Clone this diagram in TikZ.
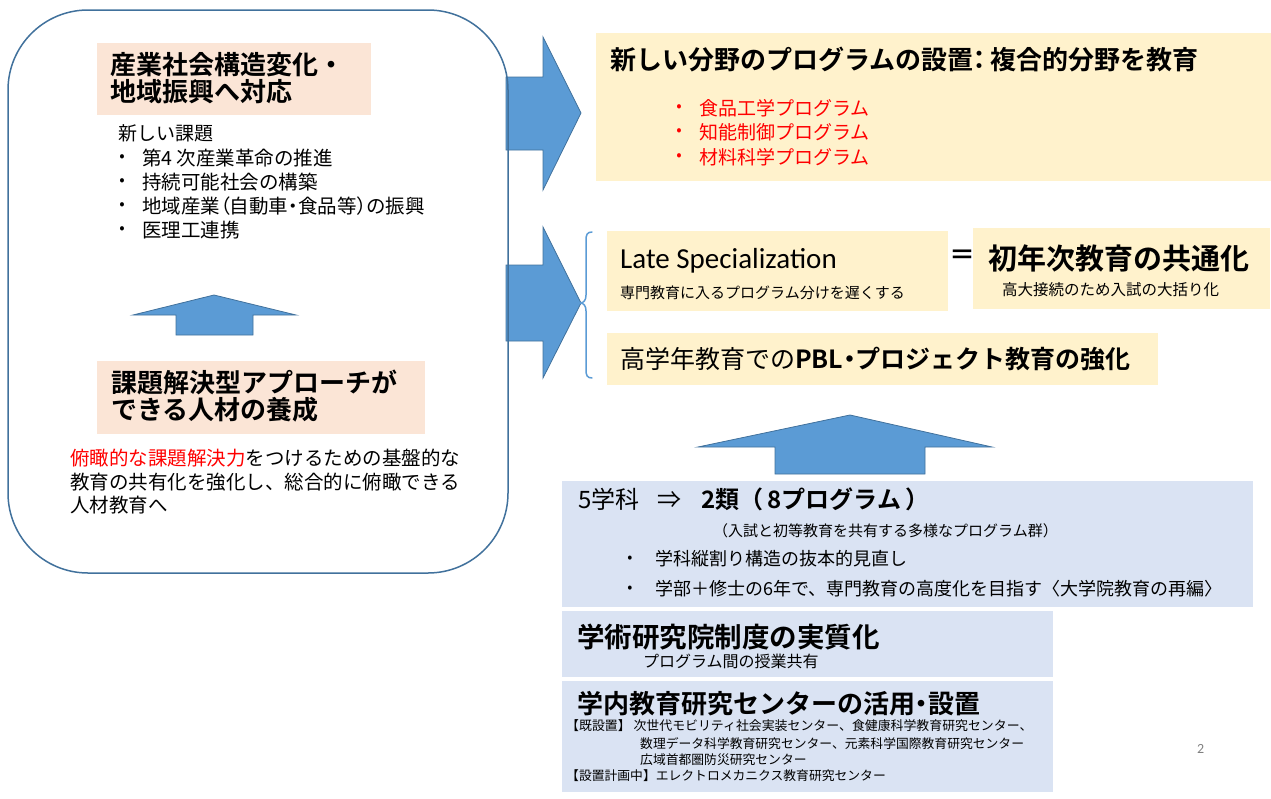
\documentclass[tikz,border=0pt]{standalone}
\usepackage{fontspec}
\setmainfont{Noto Sans CJK JP}[BoldFont={Noto Sans CJK JP Bold}]
\newfontfamily\jpp{Noto Sans CJK JP}[BoldFont={Noto Sans CJK JP Bold}, RawFeature=+palt]
\newfontfamily\carlito{Carlito}
\definecolor{pinkc}{HTML}{FBE5D6}
\definecolor{yellowc}{HTML}{FFF2CC}
\definecolor{bluec}{HTML}{DAE3F3}
\definecolor{arrowc}{HTML}{5B9BD5}
\definecolor{edgec}{HTML}{41719C}
\definecolor{redc}{HTML}{FF0000}
\newcommand{\fsz}[1]{\fontsize{#1}{#1}\selectfont}
\newcommand{\nd}{{\jpp ・}}
\begin{document}
\begin{tikzpicture}[x=1pt,y=-1pt,
  txt/.style={anchor=west, inner sep=0pt, align=left},
  box/.style={anchor=north west, inner sep=0pt, draw=none},
  blockarrow/.style={fill=arrowc, draw=edgec, line width=0.8pt},
  bul/.style={anchor=center, inner sep=0pt}]
\useasboundingbox (0,0) rectangle (1271,798);

% right block arrows
\draw[blockarrow] (506,77) -- (543,77) -- (543,37) -- (581,113) -- (543,190) -- (543,150) -- (506,150) -- cycle;
\draw[blockarrow] (506,265) -- (543,265) -- (543,227) -- (581,303) -- (543,378) -- (543,341) -- (506,341) -- cycle;

% big rounded frame
\draw[edgec, line width=1.5pt, rounded corners=80pt] (8,10) rectangle (508,573);

% left pink boxes
\node[box, fill=pinkc, minimum width=274pt, minimum height=72pt] (p1) at (97,43) {};
\node[txt, anchor=north west, font=\fontsize{26}{27}\selectfont\bfseries] (p1t) at (110,52) {産業社会構造変化・\\地域振興へ対応};
\node[txt, font=\fsz{19}] (newk) at (118,133) {新しい課題};
\foreach \yy/\t [count=\i] in {158/第4 次産業革命の推進, 182/持続可能社会の構築, 206/地域産業{\jpp （}自動車\nd 食品等{\jpp ）}の振興, 230/医理工連携}{
  \node[bul, font=\fsz{16}] (lb\i) at (122,\yy) {•};
  \node[txt, font=\fsz{19.5}] (lt\i) at (142,\yy) {\t};
}
\draw[blockarrow] (176,335) -- (176,315) -- (133,315) -- (214,295) -- (296,315) -- (253,315) -- (253,335) -- cycle;
\node[box, fill=pinkc, minimum width=328pt, minimum height=73pt] (p2) at (97,361) {};
\node[txt, anchor=north west, font=\fontsize{26}{27}\selectfont\bfseries] (p2t) at (111,370) {課題解決型アプローチが\\できる人材の養成};
\node[txt, anchor=north west, font=\fontsize{19.5}{23.5}\selectfont] (para) at (70,449)
  {\textcolor{redc}{俯瞰的な課題解決力}をつけるための基盤的な\\教育の共有化を強化し、総合的に俯瞰できる\\人材教育へ};

% yellow box A
\node[box, fill=yellowc, minimum width=675pt, minimum height=148pt] (ya) at (596,33) {};
\node[txt, font=\fsz{26}\bfseries] (yat) at (610,60) {新しい分野のプログラムの設置{\jpp ：}\hspace{4pt}複合的分野を教育};
\foreach \yy/\t [count=\i] in {108/食品工学プログラム, 132/知能制御プログラム, 157/材料科学プログラム}{
  \node[bul, font=\fsz{16}, text=redc] (rb\i) at (679,\yy) {•};
  \node[txt, font=\fsz{19}, text=redc] (rt\i) at (699,\yy) {\t};
}

% brace
\draw[arrowc, line width=1.5pt, line cap=round] (592,232) .. controls (587,232) and (586,235) .. (586,240) -- (586,295) .. controls (586,300) and (584,303) .. (580,303) .. controls (584,303) and (586,306) .. (586,311) -- (586,370) .. controls (586,375) and (587,378) .. (592,378);

% yellow boxes B, C, D
\node[box, fill=yellowc, minimum width=341pt, minimum height=80pt] (yb) at (607,231) {};
\node[txt, font=\carlito\fsz{29}] (late) at (620,261) {Late Specialization};
\node[txt, font=\fsz{15}] (lates) at (620,293) {専門教育に入るプログラム分けを遅くする};
\node[txt, font=\fsz{26}\bfseries] (eq) at (949,257) {＝};
\node[box, fill=yellowc, minimum width=297pt, minimum height=81pt] (yc) at (973,228) {};
\node[txt, font=\fsz{29}\bfseries] (yct) at (988,258) {初年次教育の共通化};
\node[txt, font=\fsz{15.5}] (ycs) at (1002,290) {高大接続のため入試の大括り化};
\node[box, fill=yellowc, minimum width=551pt, minimum height=52pt] (yd) at (607,333) {};
\node[txt, font=\fsz{25}] (ydt) at (620,359) {高学年教育での\textbf{PBL\nd プロジェクト教育の強化}};

% up arrow right
\draw[blockarrow] (775,474) -- (775,447) -- (698,447) -- (850,415) -- (992,447) -- (925,447) -- (925,474) -- cycle;

% blue boxes
\node[box, fill=bluec, minimum width=691pt, minimum height=126pt] (be) at (562,481) {};
\node[txt, font=\fsz{24}] (bet) at (578,499) {5学科\hspace{18pt}⇒\hspace{20pt}\textbf{2類（\hspace{4pt}8プログラム\hspace{4pt}）}};
\node[txt, font=\fsz{15}] (bes) at (713,531) {（入試と初等教育を共有する多様なプログラム群）};
\foreach \yy/\t [count=\i] in {559/学科縦割り構造の抜本的見直し, 589/学部＋修士の6年で、専門教育の高度化を目指す〈大学院教育の再編〉}{
  \node[bul, font=\fsz{15}] (bb\i) at (630,\yy) {•};
  \node[txt, font=\fsz{18}] (bt\i) at (655,\yy) {\t};
}
\node[box, fill=bluec, minimum width=491pt, minimum height=66pt] (bf) at (562,611) {};
\node[txt, font=\fsz{27.5}\bfseries] (bft) at (577,637) {学術研究院制度の実質化};
\node[txt, font=\fsz{16}] (bfs) at (643,661) {プログラム間の授業共有};
\node[box, fill=bluec, minimum width=491pt, minimum height=111pt] (bg) at (562,681) {};
\node[txt, font=\fsz{26}\bfseries] (bgt) at (577,704) {学内教育研究センターの活用\nd 設置};
\node[txt, font=\fsz{12.9}] (bg1) at (566,726) {【既設置】 次世代モビリティ社会実装センター、食健康科学教育研究センター、};
\node[txt, font=\fsz{12.8}] (bg2) at (640,744) {数理データ科学教育研究センター、元素科学国際教育研究センター};
\node[txt, font=\fsz{12.8}] (bg3) at (640,760) {広域首都圏防災研究センター};
\node[txt, font=\fsz{12.8}] (bg4) at (566,776) {【設置計画中】エレクトロメカニクス教育研究センター};

% page number
\node[txt, font=\carlito\fsz{14}, text=gray] (pg) at (1197,749) {2};
\end{tikzpicture}
\end{document}
